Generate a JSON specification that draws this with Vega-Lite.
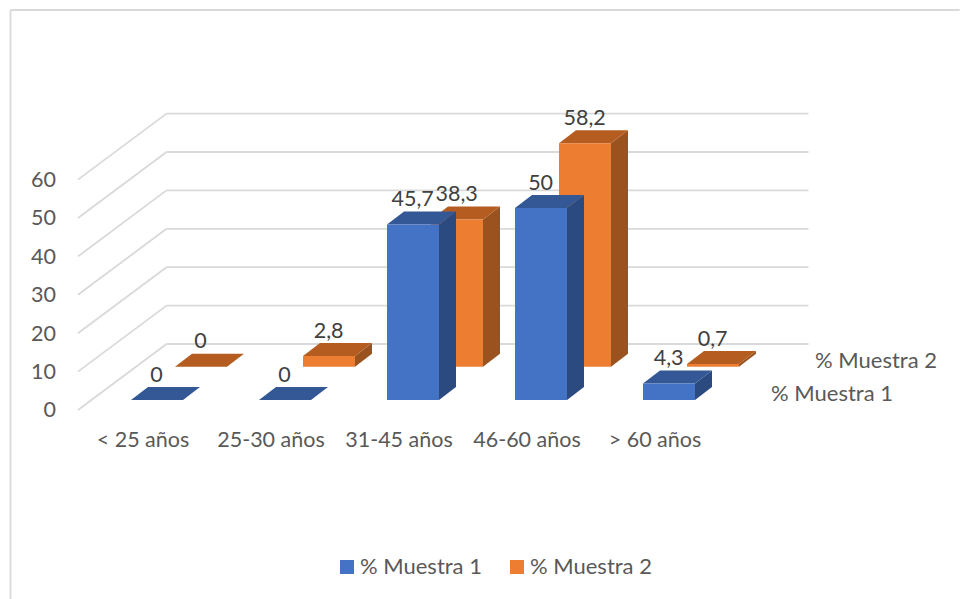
{
  "$schema": "https://vega.github.io/schema/vega-lite/v6.json",
  "width": 960,
  "height": 599,
  "padding": 0,
  "autosize": {"type": "none"},
  "background": "white",
  "config": {
    "view": {"stroke": null},
    "font": "Lato",
    "locale": {"number": {"decimal": ",", "thousands": ".", "grouping": [3], "currency": ["", " €"]}}
  },
  "datasets": {
    "muestras": [
      {"categoria": "< 25 años", "serie": "% Muestra 1", "valor": 0},
      {"categoria": "25-30 años", "serie": "% Muestra 1", "valor": 0},
      {"categoria": "31-45 años", "serie": "% Muestra 1", "valor": 45.7},
      {"categoria": "46-60 años", "serie": "% Muestra 1", "valor": 50},
      {"categoria": "> 60 años", "serie": "% Muestra 1", "valor": 4.3},
      {"categoria": "< 25 años", "serie": "% Muestra 2", "valor": 0},
      {"categoria": "25-30 años", "serie": "% Muestra 2", "valor": 2.8},
      {"categoria": "31-45 años", "serie": "% Muestra 2", "valor": 38.3},
      {"categoria": "46-60 años", "serie": "% Muestra 2", "valor": 58.2},
      {"categoria": "> 60 años", "serie": "% Muestra 2", "valor": 0.7}
    ],
    "marcas": [
      {"marca": 0}, {"marca": 10}, {"marca": 20}, {"marca": 30}, {"marca": 40}, {"marca": 50}, {"marca": 60}
    ],
    "marco": [{"elemento": "borde"}]
  },
  "layer": [
    {
      "data": {"name": "marco"},
      "mark": {"type": "rule", "color": "#D9D9D9", "strokeWidth": 1.8},
      "encoding": {
        "x": {"datum": -1.035, "type": "quantitative", "axis": null, "scale": {"domain": [-1.1171875, 6.3828125], "nice": false, "zero": false}},
        "y": {"datum": 101.56, "type": "quantitative", "axis": null, "scale": {"domain": [-51.8229, 104.1667], "nice": false, "zero": false}},
        "y2": {"datum": -51.82}
      }
    },
    {
      "data": {"name": "marco"},
      "mark": {"type": "rule", "color": "#D9D9D9", "strokeWidth": 1.8},
      "encoding": {
        "x": {"datum": -1.035, "type": "quantitative", "axis": null},
        "x2": {"datum": 6.38},
        "y": {"datum": 101.56, "type": "quantitative", "axis": null}
      }
    },
    {
      "data": {"name": "marcas"},
      "transform": [
        {"calculate": "datum.marca - 2.604", "as": "yFrente"},
        {"calculate": "datum.marca + 14.583", "as": "yFondo"}
      ],
      "layer": [
        {
          "mark": {"type": "rule", "color": "#D9D9D9", "strokeWidth": 1.8},
          "encoding": {
            "x": {"datum": -0.508, "type": "quantitative", "axis": null},
            "x2": {"datum": 0.1836},
            "y": {"field": "yFrente", "type": "quantitative", "axis": null},
            "y2": {"field": "yFondo"}
          }
        },
        {
          "mark": {"type": "rule", "color": "#D9D9D9", "strokeWidth": 1.8},
          "encoding": {
            "x": {"datum": 0.1836, "type": "quantitative", "axis": null},
            "x2": {"datum": 5.199},
            "y": {"field": "yFondo", "type": "quantitative", "axis": null}
          }
        },
        {
          "mark": {"type": "text", "align": "right", "baseline": "middle", "dy": 1.5, "font": "Lato", "fontSize": 21.5, "color": "#595959"},
          "encoding": {
            "x": {"datum": -0.6797, "type": "quantitative", "axis": null},
            "y": {"field": "yFrente", "type": "quantitative", "axis": null},
            "text": {"field": "marca", "type": "quantitative"}
          }
        }
      ]
    },
    {
      "data": {"name": "muestras"},
      "transform": [
        {"calculate": "indexof(['< 25 años', '25-30 años', '31-45 años', '46-60 años', '> 60 años'], datum.categoria)", "as": "i"},
        {"calculate": "datum.serie === '% Muestra 2' ? 1 : 0", "as": "p"},
        {"calculate": "datum.i - 0.09375 + datum.p * 0.34375", "as": "xIzq"},
        {"calculate": "datum.xIzq + 0.40625", "as": "xDer"},
        {"calculate": "datum.p * 8.68", "as": "base"},
        {"calculate": "datum.base + datum.valor", "as": "cima"}
      ],
      "layer": [
        {
          "transform": [{"filter": "datum.p === 1"}],
          "layer": [
            {
              "transform": [
                {"calculate": "[0, 1]", "as": "t"},
                {"flatten": ["t"]},
                {"calculate": "datum.xDer + datum.t * 0.1328", "as": "xLado"},
                {"calculate": "datum.cima + datum.t * 3.385", "as": "yLado"},
                {"calculate": "datum.base + datum.t * 3.385", "as": "yLado2"}
              ],
              "mark": {"type": "area", "orient": "vertical", "color": "#9A521F"},
              "encoding": {
                "x": {"field": "xLado", "type": "quantitative", "axis": null},
                "y": {"field": "yLado", "type": "quantitative", "axis": null},
                "y2": {"field": "yLado2"},
                "detail": {"field": "categoria"}
              }
            },
            {
              "transform": [
                {"calculate": "[0, 1, 2, 3]", "as": "t"},
                {"flatten": ["t"]},
                {"calculate": "datum.t === 0 ? datum.xIzq : datum.t === 1 ? datum.xIzq + 0.1328 : datum.t === 2 ? datum.xDer : datum.xDer + 0.1328", "as": "xTapa"},
                {"calculate": "datum.t === 0 ? datum.cima : datum.cima + 3.385", "as": "yTapa"},
                {"calculate": "datum.t === 3 ? datum.cima + 3.385 : datum.cima", "as": "yTapa2"}
              ],
              "mark": {"type": "area", "orient": "vertical", "color": "#B55D21"},
              "encoding": {
                "x": {"field": "xTapa", "type": "quantitative", "axis": null},
                "y": {"field": "yTapa", "type": "quantitative", "axis": null},
                "y2": {"field": "yTapa2"},
                "detail": {"field": "categoria"}
              }
            },
            {
              "mark": {"type": "rect"},
              "encoding": {
                "x": {"field": "xIzq", "type": "quantitative", "axis": null},
                "x2": {"field": "xDer"},
                "y": {"field": "cima", "type": "quantitative", "axis": null},
                "y2": {"field": "base"},
                "color": {
                  "field": "serie", "type": "nominal",
                  "scale": {"domain": ["% Muestra 1", "% Muestra 2"], "range": ["#4472C4", "#ED7D31"]},
                  "legend": {
                    "title": null, "orient": "none", "legendX": 336, "legendY": 556, "direction": "horizontal", "columns": 2,
                    "symbolType": "square", "symbolSize": 196, "symbolStrokeWidth": 0, "columnPadding": 24, "labelOffset": 2, "gridAlign": "each",
                    "labelFont": "Lato", "labelFontSize": 22, "labelColor": "#595959", "labelLimit": 300
                  }
                }
              }
            }
          ]
        },
        {
          "transform": [{"filter": "datum.p === 0"}],
          "layer": [
            {
              "transform": [
                {"calculate": "[0, 1]", "as": "t"},
                {"flatten": ["t"]},
                {"calculate": "datum.xDer + datum.t * 0.1328", "as": "xLado"},
                {"calculate": "datum.cima + datum.t * 3.385", "as": "yLado"},
                {"calculate": "datum.base + datum.t * 3.385", "as": "yLado2"}
              ],
              "mark": {"type": "area", "orient": "vertical", "color": "#2A4A80"},
              "encoding": {
                "x": {"field": "xLado", "type": "quantitative", "axis": null},
                "y": {"field": "yLado", "type": "quantitative", "axis": null},
                "y2": {"field": "yLado2"},
                "detail": {"field": "categoria"}
              }
            },
            {
              "transform": [
                {"calculate": "[0, 1, 2, 3]", "as": "t"},
                {"flatten": ["t"]},
                {"calculate": "datum.t === 0 ? datum.xIzq : datum.t === 1 ? datum.xIzq + 0.1328 : datum.t === 2 ? datum.xDer : datum.xDer + 0.1328", "as": "xTapa"},
                {"calculate": "datum.t === 0 ? datum.cima : datum.cima + 3.385", "as": "yTapa"},
                {"calculate": "datum.t === 3 ? datum.cima + 3.385 : datum.cima", "as": "yTapa2"}
              ],
              "mark": {"type": "area", "orient": "vertical", "color": "#345895"},
              "encoding": {
                "x": {"field": "xTapa", "type": "quantitative", "axis": null},
                "y": {"field": "yTapa", "type": "quantitative", "axis": null},
                "y2": {"field": "yTapa2"},
                "detail": {"field": "categoria"}
              }
            },
            {
              "mark": {"type": "rect"},
              "encoding": {
                "x": {"field": "xIzq", "type": "quantitative", "axis": null},
                "x2": {"field": "xDer"},
                "y": {"field": "cima", "type": "quantitative", "axis": null},
                "y2": {"field": "base"},
                "color": {"field": "serie", "type": "nominal"}
              }
            }
          ]
        },
        {
          "transform": [
            {"calculate": "datum.xIzq + 0.2", "as": "xEtiqueta"},
            {"calculate": "datum.cima + 3.385 + 1.4", "as": "yEtiqueta"}
          ],
          "mark": {"type": "text", "align": "center", "baseline": "alphabetic", "font": "Lato", "fontSize": 21.5, "color": "#404040"},
          "encoding": {
            "x": {"field": "xEtiqueta", "type": "quantitative", "axis": null},
            "y": {"field": "yEtiqueta", "type": "quantitative", "axis": null},
            "text": {"field": "valor", "type": "quantitative", "format": ".1~f"}
          }
        },
        {
          "transform": [
            {"filter": "datum.p === 0"},
            {"calculate": "-10.7", "as": "yCategoria"}
          ],
          "mark": {"type": "text", "align": "center", "baseline": "middle", "font": "Lato", "fontSize": 21.5, "color": "#595959"},
          "encoding": {
            "x": {"field": "i", "type": "quantitative", "axis": null},
            "y": {"field": "yCategoria", "type": "quantitative", "axis": null},
            "text": {"field": "categoria", "type": "nominal"}
          }
        },
        {
          "transform": [
            {"filter": "datum.categoria === '> 60 años'"},
            {"calculate": "datum.xDer + 0.1328 + 0.461", "as": "xSerie"},
            {"calculate": "datum.base + 1.56", "as": "ySerie"}
          ],
          "mark": {"type": "text", "align": "left", "baseline": "middle", "font": "Lato", "fontSize": 22, "color": "#595959"},
          "encoding": {
            "x": {"field": "xSerie", "type": "quantitative", "axis": null},
            "y": {"field": "ySerie", "type": "quantitative", "axis": null},
            "text": {"field": "serie", "type": "nominal"}
          }
        }
      ]
    }
  ]
}
